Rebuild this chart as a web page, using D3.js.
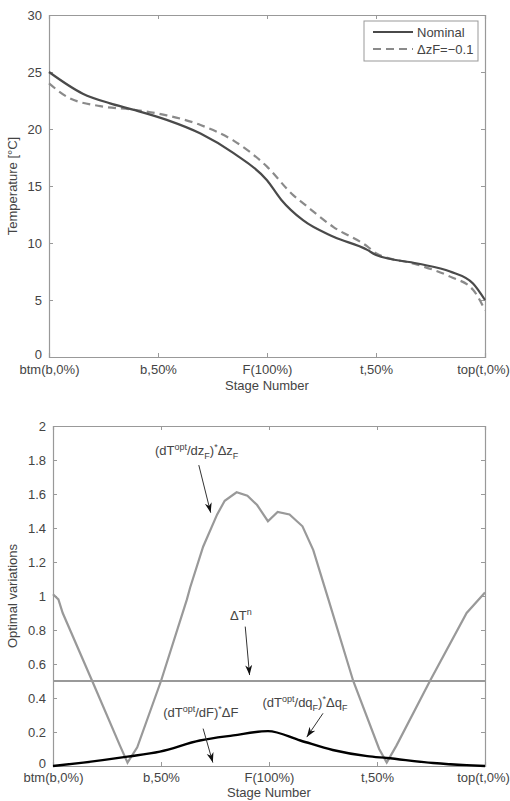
<!doctype html>
<html lang="en">
<head>
  <meta charset="utf-8">
  <style>
    body { margin: 0; background: #fff; }
    text { font-family: "Liberation Sans", Arial, sans-serif; fill: #444; }
  </style>
</head>
<body>
  <script src="https://d3js.org/d3.v7.min.js"></script>
  <div id="chart"></div>
  <script>
    // stage tick labels (x positions 0..4)
    var stageTicks = [0, 1, 2, 3, 4];
    var stageLabels = ["btm(b,0%)", "b,50%", "F(100%)", "t,50%", "top(t,0%)"];

    // top panel: temperature profiles
    var nominalX = [0, 0.31, 0.56, 0.77, 1.08, 1.39, 1.69, 2.0, 2.13, 2.33, 2.61, 2.92, 3.0, 3.38, 3.68, 3.89, 4.0];
    var nominalT = [25, 23.1, 22.25, 21.7, 20.8, 19.6, 17.9, 15.5, 13.8, 12.0, 10.55, 9.4, 8.95, 8.2, 7.5, 6.45, 5.0];
    var dzX = [0, 0.17, 0.47, 0.77, 1.08, 1.39, 1.69, 2.0, 2.24, 2.33, 2.61, 2.92, 3.0, 3.38, 3.68, 3.89, 4.0];
    var dzT = [24.0, 22.8, 22.0, 21.7, 21.2, 20.35, 19.0, 16.7, 14.2, 13.5, 11.4, 9.7, 9.1, 8.1, 7.05, 5.9, 4.1];
    var tempTicks = [0, 5, 10, 15, 20, 25, 30];

    // bottom panel: optimal variations
    var zfX = [0, 0.05, 0.09, 0.37, 0.62, 0.69, 0.78, 1.0, 1.24, 1.27, 1.39, 1.52, 1.59, 1.70, 1.80, 1.89, 1.99, 2.08, 2.19, 2.31, 2.41, 2.55, 2.78, 3.02, 3.09, 3.18, 3.49, 3.83, 4.0];
    var zfV = [1.01, 0.98, 0.9, 0.49, 0.12, 0.02, 0.11, 0.5, 0.98, 1.05, 1.29, 1.48, 1.56, 1.61, 1.59, 1.535, 1.44, 1.495, 1.48, 1.41, 1.27, 0.98, 0.5, 0.1, 0.02, 0.12, 0.5, 0.9, 1.02];
    var fX = [0, 0.28, 0.69, 0.99, 1.36, 1.67, 1.99, 2.29, 2.59, 2.91, 3.09, 3.52, 3.83, 4.0];
    var fV = [0, 0.02, 0.055, 0.085, 0.15, 0.18, 0.205, 0.15, 0.094, 0.058, 0.047, 0.018, 0.005, 0];
    var dTn = 0.5;
    var varTicks = [0, 0.2, 0.4, 0.6, 0.8, 1, 1.2, 1.4, 1.6, 1.8, 2];

    var svg = d3.select("#chart").append("svg")
      .attr("width", 510).attr("height", 801);

    svg.append("defs").append("marker")
      .attr("id", "arr").attr("viewBox", "0 0 10 10")
      .attr("refX", 10).attr("refY", 5)
      .attr("markerWidth", 10).attr("markerHeight", 10)
      .attr("markerUnits", "userSpaceOnUse")
      .attr("orient", "auto")
      .append("path").attr("d", "M0,1.5 L10,5 L0,8.5 L3,5 Z").attr("fill", "#111");

    function panel(box, yDomain, yTicks, yFmt, yLabel, xPad, xLabelOff) {
      var x = d3.scaleLinear().domain([0, 4]).range([box.left, box.right]);
      var y = d3.scaleLinear().domain(yDomain).range([box.bottom, box.top]);
      var g = svg.append("g");
      var tk = 4;
      var xb = g.append("g").attr("transform", "translate(0," + box.bottom + ")")
        .call(d3.axisBottom(x).tickValues(stageTicks).tickSize(-tk).tickPadding(xPad).tickFormat(function(d, i) { return stageLabels[i]; }));
      // keep the last label inside the window
      xb.selectAll(".tick text").filter(function(d) { return d === 4; }).attr("dx", -2);
      g.append("g").attr("transform", "translate(0," + box.top + ")")
        .call(d3.axisTop(x).tickValues(stageTicks).tickSize(-tk).tickFormat(""));
      var yl = g.append("g").attr("transform", "translate(" + box.left + ",0)")
        .call(d3.axisLeft(y).tickValues(yTicks).tickSize(-tk).tickPadding(7).tickFormat(yFmt));
      // lift the zero label a little off the stage labels
      yl.selectAll(".tick text").filter(function(d) { return d === 0; }).attr("dy", "0.1em");
      g.append("g").attr("transform", "translate(" + box.right + ",0)")
        .call(d3.axisRight(y).tickValues(yTicks).tickSize(-tk).tickFormat(""));
      g.selectAll(".domain").attr("stroke", "#999").attr("stroke-width", 1.2);
      g.selectAll(".tick line").attr("stroke", "#999");
      g.selectAll(".tick text").attr("font-size", 13).style("fill", "#444")
        .attr("font-family", "Liberation Sans, Arial, sans-serif");
      g.append("text")
        .attr("transform", "translate(17," + ((box.top + box.bottom) / 2) + ") rotate(-90)")
        .attr("text-anchor", "middle").attr("font-size", 13).text(yLabel);
      g.append("text")
        .attr("x", (box.left + box.right) / 2).attr("y", box.bottom + xLabelOff)
        .attr("text-anchor", "middle").attr("font-size", 13).text("Stage Number");
      return {x: x, y: y, g: g};
    }

    function drawLine(p, xs, ys, curve) {
      return p.g.append("path")
        .datum(xs.map(function(v, i) { return [v, ys[i]]; }))
        .attr("fill", "none")
        .attr("d", d3.line().x(function(d) { return p.x(d[0]); }).y(function(d) { return p.y(d[1]); }).curve(curve));
    }

    // ---- top panel
    var tp = panel({left: 49, right: 485, top: 15, bottom: 357}, [0, 30], tempTicks, d3.format("d"), "Temperature [\u00B0C]", 8, 33);
    drawLine(tp, dzX, dzT, d3.curveMonotoneX).attr("stroke", "#8a8a8a").attr("stroke-width", 2.2).attr("stroke-dasharray", "8,5");
    drawLine(tp, nominalX, nominalT, d3.curveMonotoneX).attr("stroke", "#4a4a4a").attr("stroke-width", 2.2);

    // legend
    var leg = tp.g.append("g");
    leg.append("rect").attr("x", 364).attr("y", 21).attr("width", 114).attr("height", 40)
      .attr("fill", "#fff").attr("stroke", "#999");
    leg.append("line").attr("x1", 373).attr("x2", 413).attr("y1", 32).attr("y2", 32)
      .attr("stroke", "#4a4a4a").attr("stroke-width", 2.2);
    leg.append("line").attr("x1", 373).attr("x2", 413).attr("y1", 49).attr("y2", 49)
      .attr("stroke", "#8a8a8a").attr("stroke-width", 2.2).attr("stroke-dasharray", "8,5");
    leg.append("text").attr("x", 417).attr("y", 37).attr("font-size", 13).text("Nominal");
    leg.append("text").attr("x", 417).attr("y", 54).attr("font-size", 13).text("\u0394zF=\u22120.1");

    // ---- bottom panel
    var bp = panel({left: 53, right: 485, top: 426, bottom: 766}, [0, 2], varTicks, function(d) { return d3.format("")(d); }, "Optimal variations", 7, 31);
    bp.g.append("line")
      .attr("x1", bp.x(0)).attr("x2", bp.x(4)).attr("y1", bp.y(dTn)).attr("y2", bp.y(dTn))
      .attr("stroke", "#999").attr("stroke-width", 2);
    drawLine(bp, zfX, zfV, d3.curveLinear).attr("stroke", "#999").attr("stroke-width", 2.2);
    drawLine(bp, fX, fV, d3.curveMonotoneX).attr("stroke", "#000").attr("stroke-width", 2.4);

    // annotations: text parts [str, kind], text anchor point and arrow (data units)
    var annotations = [
      {tx: 0.944, ty: 1.83, parts: [["(dT", ""], ["opt", "sup"], ["/dz", ""], ["F", "sub"], [")", ""], ["*", "sup"], ["\u0394z", ""], ["F", "sub"]], a: [1.35, 1.77, 1.46, 1.49]},
      {tx: 1.64, ty: 0.86, parts: [["\u0394T", ""], ["n", "sup"]], a: [1.78, 0.82, 1.82, 0.535]},
      {tx: 1.02, ty: 0.29, parts: [["(dT", ""], ["opt", "sup"], ["/dF)", ""], ["*", "sup"], ["\u0394F", ""]], a: [1.39, 0.22, 1.48, 0.02]},
      {tx: 1.94, ty: 0.35, parts: [["(dT", ""], ["opt", "sup"], ["/dq", ""], ["F", "sub"], [")", ""], ["*", "sup"], ["\u0394q", ""], ["F", "sub"]], a: [2.5, 0.31, 2.35, 0.17]}
    ];
    var off = {"": 0, sup: -5, sub: 4};
    annotations.forEach(function(an) {
      var t = bp.g.append("text").attr("x", bp.x(an.tx)).attr("y", bp.y(an.ty)).attr("font-size", 13);
      var prev = "";
      an.parts.forEach(function(p) {
        t.append("tspan").attr("dy", off[p[1]] - off[prev]).attr("font-size", p[1] ? 9 : 13).text(p[0]);
        prev = p[1];
      });
      bp.g.append("line")
        .attr("x1", bp.x(an.a[0])).attr("y1", bp.y(an.a[1]))
        .attr("x2", bp.x(an.a[2])).attr("y2", bp.y(an.a[3]))
        .attr("stroke", "#333").attr("stroke-width", 1)
        .attr("marker-end", "url(#arr)");
    });
  </script>
</body>
</html>
